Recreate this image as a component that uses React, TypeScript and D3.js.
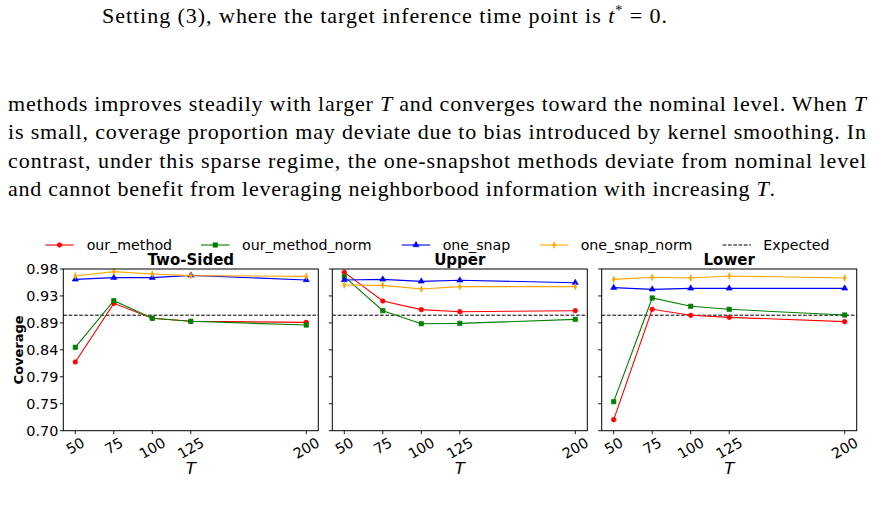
import React from "react";
import * as d3 from "d3";

// Sample sizes on the x axis
const T_VALUES = [50, 75, 100, 125, 200];

// Panel titles
const PANEL_TITLES = ["Two-Sided", "Upper", "Lower"];

// Legend / series names
const SERIES_NAMES = ["our_method", "our_method_norm", "one_snap", "one_snap_norm"];

// Coverage values, Two-Sided intervals
const twoSidedOurMethod = [0.819, 0.9205, 0.8946, 0.8894, 0.8876];
const twoSidedOurMethodNorm = [0.8444, 0.9252, 0.8946, 0.8894, 0.883];
const twoSidedOneSnap = [0.9621, 0.965, 0.965, 0.969, 0.961];
const twoSidedOneSnapNorm = [0.968, 0.9754, 0.9713, 0.9685, 0.9673];

// Coverage values, Upper intervals
const upperOurMethod = [0.9742, 0.9246, 0.9096, 0.9061, 0.9078];
const upperOurMethodNorm = [0.9667, 0.9078, 0.8853, 0.8859, 0.8928];
const upperOneSnap = [0.961, 0.9621, 0.9586, 0.9604, 0.9563];
const upperOneSnapNorm = [0.9523, 0.9517, 0.9454, 0.9494, 0.9494];

// Coverage values, Lower intervals
const lowerOurMethod = [0.7191, 0.9102, 0.8998, 0.8963, 0.8888];
const lowerOurMethodNorm = [0.7503, 0.9298, 0.9154, 0.9102, 0.9003];
const lowerOneSnap = [0.9477, 0.9448, 0.9465, 0.9465, 0.9465];
const lowerOneSnapNorm = [0.9621, 0.9656, 0.9644, 0.9679, 0.9644];

// Nominal coverage level
const EXPECTED = 0.9;

// Y axis tick labels (7 evenly spaced ticks between 0.70 and 0.98)
const Y_TICK_LABELS = ["0.70", "0.75", "0.79", "0.84", "0.89", "0.93", "0.98"];
const Y_MIN = 0.7;
const Y_MAX = 0.98;

// Paragraph text above the figure
const CAPTION_LINE = "Setting (3), where the target inference time point is ";
const BODY_LINE_1A = "methods improves steadily with larger ";
const BODY_LINE_1B = " and converges toward the nominal level. When ";
const BODY_LINE_2 = "is small, coverage proportion may deviate due to bias introduced by kernel smoothing. In";
const BODY_LINE_3 = "contrast, under this sparse regime, the one-snapshot methods deviate from nominal level";
const BODY_LINE_4 = "and cannot benefit from leveraging neighborbood information with increasing ";

const PANEL_DATA = [
  [twoSidedOurMethod, twoSidedOurMethodNorm, twoSidedOneSnap, twoSidedOneSnapNorm],
  [upperOurMethod, upperOurMethodNorm, upperOneSnap, upperOneSnapNorm],
  [lowerOurMethod, lowerOurMethodNorm, lowerOneSnap, lowerOneSnapNorm],
];

const COLORS = ["#ff0000", "#008000", "#0000ff", "#ffa500"];
const SYMBOLS = [d3.symbolCircle, d3.symbolSquare, d3.symbolTriangle, d3.symbolDiamond];
const SYMBOL_SIZES = [17, 20, 16, 12];

const SANS = "'DejaVu Sans', Verdana, sans-serif";
const SERIF = "'Liberation Serif', 'Times New Roman', serif";

const W = 875;
const H = 521;

// Axes layout
const PANEL_LEFTS = [63.3, 332.3, 601.7];
const PANEL_W = 255;
const PLOT_TOP = 269;
const PLOT_BOTTOM = 430.7;
const TICK_FONT = 14.4;
const BODY_FONT = 22;

function Marker({ i, x, y }: { i: number; x: number; y: number }) {
  const d = d3.symbol().type(SYMBOLS[i]).size(SYMBOL_SIZES[i])() || "";
  return (
    <path
      d={d}
      transform={`translate(${x},${y})` + (i === 3 ? " scale(0.75,1.05)" : "")}
      fill={COLORS[i]}
      stroke={COLORS[i]}
      strokeWidth={0.6}
    />
  );
}

function Panel({ p }: { p: number }) {
  const left = PANEL_LEFTS[p];
  const x = d3.scaleLinear().domain([42.2, 207.8]).range([left, left + PANEL_W]);
  const y = d3.scaleLinear().domain([Y_MIN, Y_MAX]).range([PLOT_BOTTOM, PLOT_TOP]);
  const yTicks = d3.range(Y_TICK_LABELS.length).map(
    (k) => Y_MIN + (k * (Y_MAX - Y_MIN)) / (Y_TICK_LABELS.length - 1)
  );
  const line = d3
    .line<number>()
    .x((_, k) => x(T_VALUES[k]))
    .y((v) => y(v));
  const cx = left + PANEL_W / 2;

  return (
    <g>
      {/* nominal level */}
      <line
        x1={left}
        x2={left + PANEL_W}
        y1={y(EXPECTED)}
        y2={y(EXPECTED)}
        stroke="#000"
        strokeWidth={1}
        strokeDasharray="3.7,1.6"
      />
      {PANEL_DATA[p].map((vals, i) => (
        <g key={i}>
          <path d={line(vals) || ""} fill="none" stroke={COLORS[i]} strokeWidth={1.1} />
          {vals.map((v, k) => (
            <Marker key={k} i={i} x={x(T_VALUES[k])} y={y(v)} />
          ))}
        </g>
      ))}
      {/* frame */}
      <rect
        x={left}
        y={PLOT_TOP}
        width={PANEL_W}
        height={PLOT_BOTTOM - PLOT_TOP}
        fill="none"
        stroke="#000"
        strokeWidth={1}
      />
      {/* y ticks */}
      {yTicks.map((t, k) => (
        <g key={k}>
          <line x1={left - 3.5} x2={left} y1={y(t)} y2={y(t)} stroke="#000" strokeWidth={0.9} />
          {p === 0 && (
            <text
              x={left - 5}
              y={y(t)}
              textAnchor="end"
              dominantBaseline="central"
              fontFamily={SANS}
              fontSize={TICK_FONT}
              fill="#000"
            >
              {Y_TICK_LABELS[k]}
            </text>
          )}
        </g>
      ))}
      {/* x ticks */}
      {T_VALUES.map((t) => {
        const label = String(t);
        const w = label.length * 0.636 * TICK_FONT;
        const h = w * 0.5 + 14 * 0.866;
        const cy = PLOT_BOTTOM + 4.5 + h / 2;
        return (
          <g key={t}>
            <line
              x1={x(t)}
              x2={x(t)}
              y1={PLOT_BOTTOM}
              y2={PLOT_BOTTOM + 3.5}
              stroke="#000"
              strokeWidth={0.9}
            />
            <text
              transform={`translate(${x(t)},${cy}) rotate(-30)`}
              textAnchor="middle"
              dominantBaseline="central"
              fontFamily={SANS}
              fontSize={TICK_FONT}
              fill="#000"
            >
              {label}
            </text>
          </g>
        );
      })}
      <text
        x={cx}
        y={265}
        textAnchor="middle"
        fontFamily={SANS}
        fontWeight="bold"
        fontSize={15}
        fill="#000"
      >
        {PANEL_TITLES[p]}
      </text>
      <text
        x={cx}
        y={474}
        textAnchor="middle"
        fontFamily={SANS}
        fontStyle="italic"
        fontSize={16.5}
        fill="#000"
      >
        T
      </text>
    </g>
  );
}

function Legend() {
  const items = [
    { x0: 45.3, tx: 86.7 },
    { x0: 201, tx: 242 },
    { x0: 401.7, tx: 442.7 },
    { x0: 540, tx: 580.7 },
  ];
  const ly = 245;
  return (
    <g>
      {items.map((it, i) => (
        <g key={i}>
          <line x1={it.x0} x2={it.x0 + 28.5} y1={ly} y2={ly} stroke={COLORS[i]} strokeWidth={1.1} />
          <Marker i={i} x={it.x0 + 14.25} y={ly} />
          <text x={it.tx} y={ly + 5} fontFamily={SANS} fontSize={14.2} fill="#000">
            {SERIES_NAMES[i]}
          </text>
        </g>
      ))}
      <line
        x1={722.7}
        x2={751}
        y1={ly}
        y2={ly}
        stroke="#000"
        strokeWidth={1}
        strokeDasharray="3.7,1.6"
      />
      <text x={763.3} y={ly + 5} fontFamily={SANS} fontSize={14.2} fill="#000">
        Expected
      </text>
    </g>
  );
}

export default function App() {
  const bodyX = 8;
  const bodyWidth = 858;
  const baselines = [111, 139.4, 167.7, 196];
  const lastLineWidth = 767;
  const bodyProps = {
    x: bodyX,
    fontFamily: SERIF,
    fontSize: BODY_FONT,
    fill: "#000",
    lengthAdjust: "spacing" as const,
  };
  return (
    <svg
      width={W}
      height={H}
      viewBox={`0 0 ${W} ${H}`}
      style={{ position: "absolute", left: 0, top: 0, background: "#fff" }}
    >
      <rect width={W} height={H} fill="#fff" />
      <text
        x={102}
        y={22.5}
        fontFamily={SERIF}
        fontSize={BODY_FONT}
        fill="#000"
        textLength={565}
        lengthAdjust="spacing"
      >
        {CAPTION_LINE}
        <tspan fontStyle="italic">t</tspan>
        <tspan fontSize={14} dy={-8}>*</tspan>
        <tspan dy={8}> = 0.</tspan>
      </text>
      <text {...bodyProps} y={baselines[0]} textLength={bodyWidth}>
        {BODY_LINE_1A}
        <tspan fontStyle="italic">T</tspan>
        {BODY_LINE_1B}
        <tspan fontStyle="italic">T</tspan>
      </text>
      <text {...bodyProps} y={baselines[1]} textLength={bodyWidth}>
        {BODY_LINE_2}
      </text>
      <text {...bodyProps} y={baselines[2]} textLength={bodyWidth}>
        {BODY_LINE_3}
      </text>
      <text {...bodyProps} y={baselines[3]} textLength={lastLineWidth}>
        {BODY_LINE_4}
        <tspan fontStyle="italic">T</tspan>.
      </text>
      <Legend />
      {[0, 1, 2].map((p) => (
        <Panel key={p} p={p} />
      ))}
      <text
        transform={`translate(18.5,${(PLOT_TOP + PLOT_BOTTOM) / 2}) rotate(-90)`}
        textAnchor="middle"
        dominantBaseline="central"
        fontFamily={SANS}
        fontWeight="bold"
        fontSize={13}
        fill="#000"
      >
        Coverage
      </text>
    </svg>
  );
}
